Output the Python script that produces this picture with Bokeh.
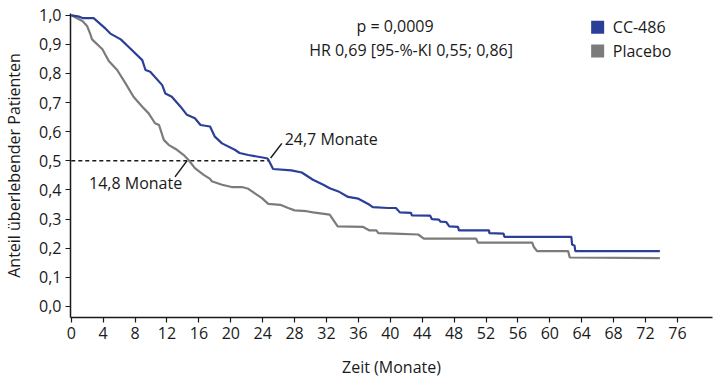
from bokeh.plotting import figure
from bokeh.models import FixedTicker, Range1d
from bokeh.embed import file_html
from bokeh.resources import INLINE
from bokeh.core.properties import value

FONT = "Open Sans"
FS = "16px"

# ---- data ----
series_names = ["CC-486", "Placebo"]
series_colors = ["#2b3f98", "#7b7b7b"]

months_cc = [0, 1.0, 1.5, 2.8, 4.3, 4.9, 6.2, 7.2, 8.9, 9.3, 9.9, 11.4, 11.8, 12.6, 13.7,
             14.5, 15.5, 16.2, 17.4, 18.0, 18.9, 20.5, 21.1, 22.2, 24.5, 24.7, 25.3, 27.6,
             28.9, 30.3, 31.6, 32.4, 33.5, 34.7, 36.0, 37.4, 37.8, 39.7, 40.7, 41.2, 42.6,
             42.7, 45.0, 45.2, 46.1, 46.3, 47.0, 47.4, 48.5, 48.6, 52.4, 52.4, 54.2, 54.3,
             62.7, 62.8, 63.1, 63.2, 73.8]
surv_cc = [1.0, 0.995, 0.99, 0.99, 0.954, 0.937, 0.917, 0.891, 0.846, 0.812, 0.806, 0.76,
           0.731, 0.72, 0.686, 0.658, 0.646, 0.623, 0.618, 0.583, 0.56, 0.538, 0.527, 0.52,
           0.509, 0.505, 0.472, 0.467, 0.46, 0.435, 0.418, 0.406, 0.395, 0.376, 0.37, 0.349,
           0.341, 0.338, 0.338, 0.323, 0.321, 0.313, 0.312, 0.30, 0.298, 0.291, 0.29, 0.275,
           0.273, 0.261, 0.261, 0.252, 0.25, 0.239, 0.239, 0.212, 0.209, 0.19, 0.19]

months_pl = [0, 1.4, 2.0, 2.4, 2.6, 3.9, 4.7, 5.75, 6.8, 7.8, 8.9, 9.7, 10.5, 11.0, 11.6,
             12.2, 13.25, 14.1, 14.7, 15.5, 16.6, 17.4, 17.6, 18.9, 20.1, 21.4, 22.2, 23.25,
             23.9, 24.7, 26.2, 27.2, 28.0, 29.5, 30.3, 32.4, 33.4, 36.6, 37.4, 38.25, 38.5,
             40.5, 43.5, 44.2, 50.75, 51.0, 57.8, 58.0, 58.4, 62.3, 62.5, 73.8]
surv_pl = [1.0, 0.98, 0.962, 0.934, 0.917, 0.883, 0.843, 0.812, 0.766, 0.72, 0.686, 0.663,
           0.629, 0.623, 0.572, 0.555, 0.538, 0.52, 0.503, 0.475, 0.452, 0.438, 0.43, 0.418,
           0.41, 0.41, 0.404, 0.384, 0.372, 0.352, 0.349, 0.338, 0.33, 0.327, 0.323, 0.315,
           0.275, 0.273, 0.261, 0.261, 0.252, 0.25, 0.247, 0.233, 0.233, 0.219, 0.219, 0.204,
           0.19, 0.19, 0.168, 0.166]

x_ticks = list(range(0, 77, 4))
y_ticks = [0.0, 0.1, 0.2, 0.3, 0.4, 0.5, 0.6, 0.7, 0.8, 0.9, 1.0]
y_tick_labels = ["0,0", "0,1", "0,2", "0,3", "0,4", "0,5", "0,6", "0,7", "0,8", "0,9", "1,0"]

median_level = 0.5
median_cc = 24.7
median_pl = 14.8
median_labels = ["24,7 Monate", "14,8 Monate"]
stat_texts = ["p = 0,0009", "HR 0,69 [95-%-KI 0,55; 0,86]"]
x_label = "Zeit (Monate)"
y_label = "Anteil überlebender Patienten"

# ---- figure ----
p = figure(width=720, height=380, output_backend="svg", toolbar_location=None,
           x_range=Range1d(-0.1, 80.4), y_range=Range1d(-0.038, 1.006),
           min_border_left=68, min_border_right=8, min_border_top=13, min_border_bottom=62)
p.outline_line_color = None
p.xgrid.visible = False
p.ygrid.visible = False

for ax in (p.xaxis[0], p.yaxis[0]):
    ax.axis_line_color = "#1a1a1a"
    ax.axis_line_width = 1.5
    ax.major_tick_line_color = "#1a1a1a"
    ax.major_tick_line_width = 1.2
    ax.major_tick_in = 0
    ax.major_tick_out = 5
    ax.minor_tick_line_color = None
    ax.major_label_text_font = FONT
    ax.major_label_text_font_size = FS
    ax.major_label_text_color = "#1a1a1a"
    ax.axis_label_text_font = FONT
    ax.axis_label_text_font_size = FS
    ax.axis_label_text_font_style = "normal"
    ax.axis_label_text_color = "#1a1a1a"

p.xaxis[0].ticker = FixedTicker(ticks=x_ticks)
p.xaxis[0].major_label_standoff = 4
p.xaxis[0].axis_label = x_label
p.xaxis[0].axis_label_standoff = 14

p.yaxis[0].ticker = FixedTicker(ticks=y_ticks)
p.yaxis[0].major_label_overrides = {t: l for t, l in zip(y_ticks, y_tick_labels)}
p.yaxis[0].major_label_standoff = 4
p.yaxis[0].axis_label = y_label
p.yaxis[0].axis_label_standoff = 11

# median dashed line
p.line([0, median_cc], [median_level, median_level], line_color="#1a1a1a",
       line_width=1.5, line_dash="4 3")

# curves
p.line(months_pl, surv_pl, line_color=series_colors[1], line_width=2.2)
p.line(months_cc, surv_cc, line_color=series_colors[0], line_width=2.2)

# leader lines and median labels
p.line([median_cc + 0.3, median_cc + 1.7], [median_level + 0.01, median_level + 0.06],
       line_color="#1a1a1a", line_width=1.5)
p.line([median_pl - 0.3, median_pl - 1.8], [median_level, median_level - 0.055],
       line_color="#1a1a1a", line_width=1.5)
p.text(x=[median_cc + 2.05], y=[median_level + 0.075], text=[median_labels[0]],
       text_font=value(FONT), text_font_size=FS, text_color="#1a1a1a",
       text_align="left", text_baseline="middle")
p.text(x=[median_pl - 0.9], y=[median_level - 0.075], text=[median_labels[1]],
       text_font=value(FONT), text_font_size=FS, text_color="#1a1a1a",
       text_align="right", text_baseline="middle")

# statistics
p.text(x=[40.6, 42.6], y=[0.962, 0.88], text=stat_texts,
       text_font=value(FONT), text_font_size=FS, text_color="#1a1a1a",
       text_align="center", text_baseline="middle")

# legend (manual)
leg_y = [0.959, 0.877]
p.rect(x=[66.0, 66.0], y=leg_y, width=13, height=13, width_units="screen",
       height_units="screen", fill_color=series_colors, line_color=None)
p.text(x=[67.9, 67.9], y=leg_y, text=series_names,
       text_font=value(FONT), text_font_size=FS, text_color="#1a1a1a",
       text_align="left", text_baseline="middle")

open("out.html", "w").write(file_html(p, INLINE))
